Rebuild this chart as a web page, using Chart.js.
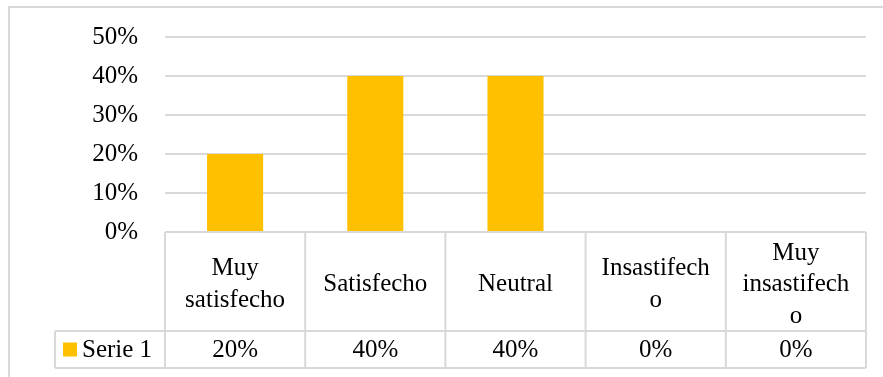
<!DOCTYPE html>
<html>
<head>
<meta charset="utf-8">
<script src="https://cdn.jsdelivr.net/npm/chart.js@4"></script>
<style>
html, body { margin: 0; padding: 0; background: #fff; }
canvas { display: block; }
</style>
</head>
<body>
<canvas id="chart" width="883" height="377"></canvas>
<script>
const categories = [['Muy', 'satisfecho'], ['Satisfecho'], ['Neutral'], ['Insastifech', 'o'], ['Muy', 'insastifech', 'o']];
const seriesName = 'Serie 1';
const values = [0.2, 0.4, 0.4, 0, 0];
const tableLabels = ['20%', '40%', '40%', '0%', '0%'];

const gridColor = '#d9d9d9';
const barColor = '#ffc000';
const fontFamily = '"Liberation Serif", "Times New Roman", serif';
const fontSize = 25;

// draws the excel style data table under the plot + the chart frame
const dataTable = {
  id: 'dataTable',
  afterDraw(chart) {
    const { ctx, chartArea, scales: { x } } = chart;
    const top = chartArea.bottom;
    const mid = top + 99;
    const bottom = mid + 37;
    const half = (x.getPixelForValue(1) - x.getPixelForValue(0)) / 2;
    const keyLeft = 55;

    ctx.save();
    ctx.strokeStyle = gridColor;
    ctx.lineWidth = 2;
    ctx.beginPath();
    ctx.moveTo(9, 377); ctx.lineTo(9, 7); ctx.lineTo(883, 7);
    ctx.moveTo(chartArea.left, top); ctx.lineTo(chartArea.right, top);
    ctx.moveTo(keyLeft, mid); ctx.lineTo(chartArea.right, mid);
    ctx.moveTo(keyLeft, bottom); ctx.lineTo(chartArea.right, bottom);
    ctx.moveTo(keyLeft, mid); ctx.lineTo(keyLeft, bottom);
    categories.forEach((c, i) => {
      const cx = x.getPixelForValue(i) - half;
      ctx.moveTo(cx, top); ctx.lineTo(cx, bottom);
    });
    ctx.moveTo(chartArea.right, top); ctx.lineTo(chartArea.right, bottom);
    ctx.stroke();

    ctx.fillStyle = '#000';
    ctx.font = fontSize + 'px ' + fontFamily;
    ctx.textAlign = 'center';
    ctx.textBaseline = 'middle';
    const lineH = 31.5;
    const headMid = (top + mid) / 2 + 3;
    const rowMid = (mid + bottom) / 2;
    categories.forEach((lines, i) => {
      const cx = x.getPixelForValue(i);
      const y0 = headMid - (lines.length - 1) * lineH / 2;
      lines.forEach((l, j) => ctx.fillText(l, cx, y0 + j * lineH));
      ctx.fillText(tableLabels[i], cx, rowMid + 1);
    });

    // legend key
    ctx.fillStyle = barColor;
    ctx.fillRect(keyLeft + 8, rowMid - 7, 14, 14);
    ctx.fillStyle = '#000';
    ctx.textAlign = 'left';
    ctx.fillText(seriesName, keyLeft + 27, rowMid + 1);
    ctx.restore();
  }
};

const chart = new Chart(document.getElementById('chart'), {
  type: 'bar',
  data: {
    labels: categories,
    datasets: [{
      label: seriesName,
      data: values,
      backgroundColor: barColor,
      categoryPercentage: 1,
      barPercentage: 0.4
    }]
  },
  options: {
    responsive: false,
    animation: false,
    layout: { padding: { left: 0, top: 37, right: 17, bottom: 145 } },
    plugins: { legend: { display: false }, tooltip: { enabled: false } },
    scales: {
      x: { display: false },
      y: {
        min: 0,
        max: 0.5,
        border: { display: false },
        grid: { color: gridColor, lineWidth: 2, drawTicks: false },
        ticks: {
          stepSize: 0.1,
          padding: 27,
          color: '#000',
          font: { family: fontFamily, size: fontSize },
          callback: v => Math.round(v * 100) + '%'
        },
        afterFit: s => {
          s.width = 165;
          // tick padding would otherwise push the plot top down
          s.paddingTop = 0;
          s.paddingBottom = 0;
        }
      }
    }
  },
  plugins: [dataTable]
});
</script>
</body>
</html>
